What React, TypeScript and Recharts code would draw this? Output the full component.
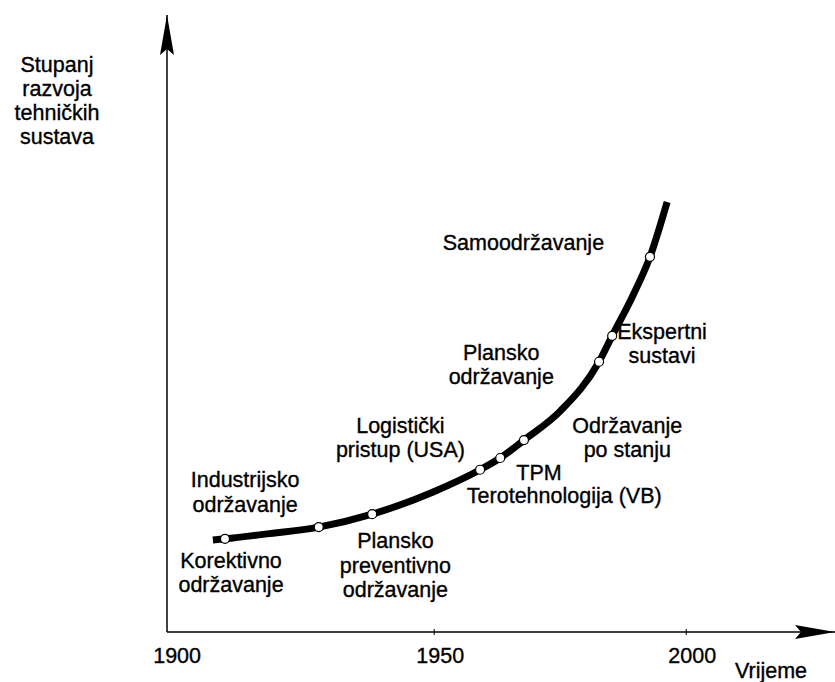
import React from "react";
import { ComposedChart, Line, Scatter, XAxis, YAxis, ReferenceDot } from "recharts";

// years shown on the time axis
const yearTicks = [1900, 1950, 2000];

// the development curve
const curveYears = [1906.1, 1908.5, 1916.8, 1927.1, 1937.7, 1949.8, 1959.1, 1963.1, 1967.8, 1975.0, 1982.7, 1985.3, 1989.4, 1992.8, 1996.2];
const curveLevels = [14.9, 15.1, 15.9, 17.0, 19.1, 22.7, 26.3, 28.2, 31.1, 35.8, 43.8, 48.0, 54.5, 60.8, 69.7];

// white milestone circles on the curve
const milestoneYears = [1908.5, 1927.1, 1937.7, 1959.1, 1963.1, 1967.8, 1982.7, 1985.3, 1992.8];
const milestoneLevels = [15.1, 17.0, 19.1, 26.3, 28.2, 31.1, 43.8, 48.0, 60.8];

const yTitleLines = ["Stupanj", "razvoja", "tehničkih", "sustava"];
const xTitle = "Vrijeme";

// phase names, anchored at (year, level) of their first line
const phaseTexts = [
  ["Korektivno", "održavanje"],
  ["Industrijsko", "održavanje"],
  ["Plansko", "preventivno", "održavanje"],
  ["Logistički", "pristup (USA)"],
  ["TPM"],
  ["Terotehnologija (VB)"],
  ["Održavanje", "po stanju"],
  ["Plansko", "održavanje"],
  ["Ekspertni", "sustavi"],
  ["Samoodržavanje"],
];
const phaseYears = [1909.7, 1912.5, 1942.3, 1943.3, 1970.8, 1975.8, 1988.3, 1963.3, 1995.2, 1967.7];
const phaseLevels = [10.4, 23.5, 13.6, 32.3, 24.6, 20.9, 32.3, 44.1, 47.5, 61.9];

const FONT = "'Liberation Sans', Arial, sans-serif";
const FS = 21.5;
const LINE_GAP = 24.5;
const TXT = { fontFamily: FONT, fontSize: FS, fill: "#000", stroke: "#000", strokeWidth: 0.35 };

const curveData = curveYears.map((year, i) => ({ year, level: curveLevels[i] }));
const milestoneData = milestoneYears.map((year, i) => ({ year, level: milestoneLevels[i] }));
const phases = phaseTexts.map((lines, i) => ({ lines, year: phaseYears[i], level: phaseLevels[i] }));

const YearTick = (props: any) => {
  const { x, y, payload } = props;
  const v = payload.value;
  return (
    <g>
      {v !== 1900 && <line x1={x} x2={x} y1={y - 3} y2={y + 3} stroke="#000" strokeWidth={1} />}
      <text x={x} y={y + 31} dx={v === 1900 ? -5 : 6} textAnchor="middle" {...TXT}>
        {v}
      </text>
    </g>
  );
};

const XTitle = (props: any) => {
  const vb = props.viewBox;
  return (
    <text x={vb.x + vb.width - 64} y={vb.y + 46} textAnchor="middle" {...TXT}>
      {xTitle}
    </text>
  );
};

const YTitle = (props: any) => {
  const vb = props.viewBox;
  const cx = vb.x + 57;
  return (
    <text textAnchor="middle" {...TXT}>
      {yTitleLines.map((l, i) => (
        <tspan key={i} x={cx} y={vb.y + 57 + i * 24}>
          {l}
        </tspan>
      ))}
    </text>
  );
};

const Milestone = (p: any) => (
  <circle cx={p.cx} cy={p.cy} r={4.5} fill="#fff" stroke="#000" strokeWidth={1.2} />
);

const RightArrow = (p: any) => (
  <polygon
    points={`${p.cx},${p.cy} ${p.cx - 40},${p.cy - 7} ${p.cx - 34},${p.cy} ${p.cx - 40},${p.cy + 7}`}
    fill="#000"
  />
);

const UpArrow = (p: any) => (
  <polygon
    points={`${p.cx},${p.cy} ${p.cx - 7},${p.cy + 40} ${p.cx},${p.cy + 34} ${p.cx + 7},${p.cy + 40}`}
    fill="#000"
  />
);

const phaseShape = (lines: string[]) => (p: any) => (
  <text textAnchor="middle" {...TXT}>
    {lines.map((l, i) => (
      <tspan key={i} x={p.cx} y={p.cy + i * LINE_GAP}>
        {l}
      </tspan>
    ))}
  </text>
);

export default function App() {
  return (
    <div style={{ position: "absolute", left: 0, top: 0, background: "#fff" }}>
      <ComposedChart width={835} height={682} margin={{ top: 15, right: 0, bottom: 0, left: 0 }}>
        <XAxis
          type="number"
          dataKey="year"
          domain={[1897, 2029.5]}
          ticks={yearTicks}
          interval={0}
          height={50}
          axisLine={{ stroke: "#000", strokeWidth: 1.5 }}
          tickLine={false}
          tickSize={0}
          tickMargin={0}
          tick={<YearTick />}
          label={<XTitle />}
        />
        <YAxis
          type="number"
          dataKey="level"
          domain={[0, 100]}
          width={167}
          tick={false}
          tickLine={false}
          axisLine={{ stroke: "#000", strokeWidth: 1.5 }}
          label={<YTitle />}
        />
        <Line
          data={curveData}
          dataKey="level"
          type="monotone"
          stroke="#000"
          strokeWidth={7}
          dot={false}
          activeDot={false}
          isAnimationActive={false}
        />
        <Scatter data={milestoneData} dataKey="level" shape={Milestone} isAnimationActive={false} />
        {phases.map((ph, i) => (
          <ReferenceDot key={i} x={ph.year} y={ph.level} r={0} ifOverflow="visible" shape={phaseShape(ph.lines)} />
        ))}
        <ReferenceDot x={2029.5} y={0} ifOverflow="visible" shape={RightArrow} />
        <ReferenceDot x={1897} y={100} ifOverflow="visible" shape={UpArrow} />
      </ComposedChart>
    </div>
  );
}
